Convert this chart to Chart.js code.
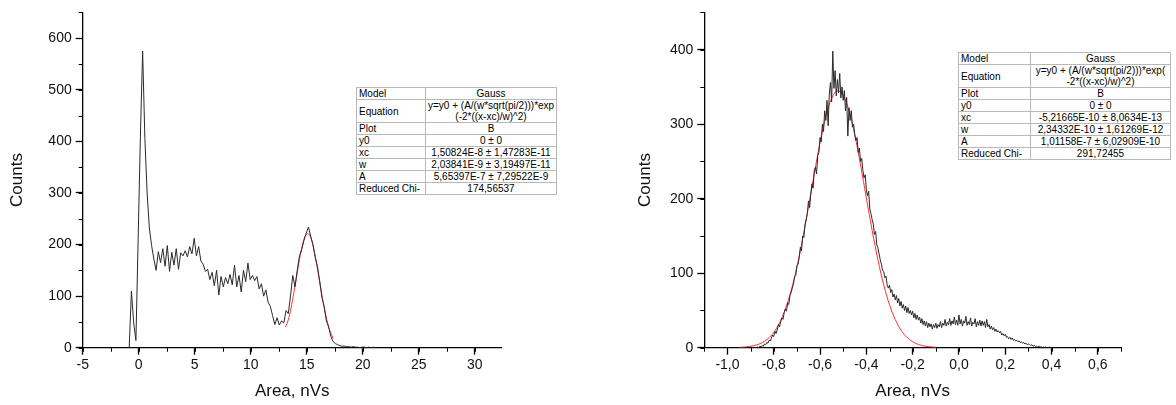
<!DOCTYPE html>
<html>
<head>
<meta charset="utf-8">
<script src="https://cdn.jsdelivr.net/npm/chart.js@4/dist/chart.umd.min.js"></script>
<style>
body { margin: 0; background: #fff; }
#wrap { position: relative; width: 1176px; height: 405px; }
canvas { position: absolute; top: 0; }
table.fit { position: absolute; border-collapse: collapse; font: 10px 'Liberation Sans', Arial, sans-serif; color: #000; background: #fff; table-layout: fixed; }
table.fit td { border: 1px solid #b8b8b8; padding: 0 2px; height: 11px; line-height: 11px; white-space: nowrap; overflow: hidden; }
table.fit td.v { text-align: center; }
</style>
</head>
<body>
<div id="wrap">
  <canvas id="leftChart" width="588" height="405" style="left:0"></canvas>
  <canvas id="rightChart" width="588" height="405" style="left:588px"></canvas>

  <table class="fit" style="left:356px; top:87px; width:201px">
    <colgroup><col style="width:69px"><col></colgroup>
    <tr><td>Model</td><td class="v">Gauss</td></tr>
    <tr><td>Equation</td><td class="v">y=y0 + (A/(w*sqrt(pi/2)))*exp<br>(-2*((x-xc)/w)^2)</td></tr>
    <tr><td>Plot</td><td class="v">B</td></tr>
    <tr><td>y0</td><td class="v">0 ± 0</td></tr>
    <tr><td>xc</td><td class="v">1,50824E-8 ± 1,47283E-11</td></tr>
    <tr><td>w</td><td class="v">2,03841E-9 ± 3,19497E-11</td></tr>
    <tr><td>A</td><td class="v">5,65397E-7 ± 7,29522E-9</td></tr>
    <tr><td>Reduced Chi-</td><td class="v">174,56537</td></tr>
  </table>

  <table class="fit" style="left:958px; top:52px; width:213px">
    <colgroup><col style="width:72px"><col></colgroup>
    <tr><td>Model</td><td class="v">Gauss</td></tr>
    <tr><td>Equation</td><td class="v">y=y0 + (A/(w*sqrt(pi/2)))*exp(<br>-2*((x-xc)/w)^2)</td></tr>
    <tr><td>Plot</td><td class="v">B</td></tr>
    <tr><td>y0</td><td class="v">0 ± 0</td></tr>
    <tr><td>xc</td><td class="v">-5,21665E-10 ± 8,0634E-13</td></tr>
    <tr><td>w</td><td class="v">2,34332E-10 ± 1,61269E-12</td></tr>
    <tr><td>A</td><td class="v">1,01158E-7 ± 6,02909E-10</td></tr>
    <tr><td>Reduced Chi-</td><td class="v">291,72455</td></tr>
  </table>
</div>

<script>
// left spectrum: histogram bins (nVs) and counts
var leftBinStart = -0.85;
var leftBinWidth = 0.2;
var leftCounts = [0, 110, 48, 14, 210, 410, 575, 405, 300, 232,
    198, 172, 150, 186, 165, 192, 158, 198, 148, 185,
    160, 192, 152, 184, 178, 188, 176, 196, 182, 212,
    178, 196, 168, 162, 148, 152, 132, 146, 120, 150,
    102, 138, 118, 136, 124, 142, 122, 160, 118, 140,
    108, 150, 128, 164, 132, 140, 130, 138, 114, 124,
    100, 112, 88, 80, 62, 45, 58, 44, 52, 48,
    72, 66, 100, 140, 118, 150, 178, 190, 208, 222,
    234, 216, 200, 176, 158, 130, 98, 80, 52, 40,
    22, 12, 8, 6, 4, 3, 3, 2, 2, 1,
    2, 1, 1, 0, 1, 1, 0, 1, 0, 1, 0];
// left gauss fit (red)
var leftFitX = [13.1, 13.35, 13.6, 13.85, 14.1, 14.35, 14.6, 14.85, 15.1, 15.35, 15.6, 15.85, 16.1, 16.35, 16.6, 16.85, 17.1, 17.35];
var leftFitY = [40, 54, 77, 107, 139, 171, 198, 216, 221, 214, 194, 166, 134, 102, 73, 49, 31, 18];
var leftXTicks = [-5, 0, 5, 10, 15, 20, 25, 30];
var leftYTicks = [0, 100, 200, 300, 400, 500, 600];

// right spectrum
var rightBinStart = -0.95;
var rightBinWidth = 0.005;
var rightCounts = [0, 0, 0, 0, 0, 0, 0, 0, 0, 0, 0, 0, 0, 0, 0, 0,
    1, 0, 2, 1, 3, 2, 5, 4, 7, 6,
    10, 9, 13, 17, 15, 22, 19, 24, 31, 28,
    35, 40, 38, 47, 52, 49, 60, 58, 70, 74,
    80, 85, 95, 97, 110, 112, 121, 135, 130, 150,
    148, 165, 172, 180, 197, 188, 206, 220, 214, 238,
    242, 233, 258, 262, 282, 276, 300, 290, 318, 305,
    332, 298, 340, 356, 330, 398, 348, 372, 338, 360,
    342, 368, 335, 350, 332, 345, 318, 336, 284, 322,
    305, 318, 296, 300, 286, 278, 282, 262, 268, 250,
    254, 238, 228, 232, 212, 204, 210, 186, 180, 172,
    166, 152, 156, 138, 134, 126, 118, 112, 104, 102,
    94, 96, 84, 80, 84, 74, 78, 68, 72, 64,
    70, 60, 66, 56, 62, 53, 58, 50, 56, 47,
    54, 46, 50, 44, 49, 40, 46, 38, 44, 37,
    41, 33, 39, 31, 36, 29, 35, 27, 33, 28,
    32, 25, 31, 27, 33, 26, 31, 28, 35, 27,
    33, 30, 38, 29, 34, 31, 39, 30, 36, 32,
    41, 31, 37, 30, 44, 32, 38, 29, 36, 33,
    42, 30, 35, 31, 40, 29, 34, 32, 39, 28,
    35, 30, 37, 29, 36, 30, 35, 27, 38, 28,
    31, 25, 29, 24, 27, 22, 25, 21, 23, 20,
    22, 17, 19, 16, 18, 14, 15, 12, 14, 11,
    13, 10, 11, 9, 10, 8, 9, 7, 8, 6,
    7, 5, 6, 4, 5, 4, 3, 4, 2, 3,
    2, 2, 1, 2, 1, 1, 0, 1, 0, 1,
    0, 0, 1, 0, 0, 0, 0];
var rightFitX = [-0.95, -0.925, -0.9, -0.875, -0.85, -0.825, -0.8, -0.775, -0.75, -0.725, -0.7, -0.675,
    -0.65, -0.625, -0.6, -0.575, -0.55, -0.525, -0.5, -0.475, -0.45, -0.425, -0.4, -0.375,
    -0.35, -0.325, -0.3, -0.275, -0.25, -0.225, -0.2, -0.175, -0.15, -0.125, -0.1];
var rightFitY = [0.4, 0.9, 1.9, 3.7, 6.8, 12.1, 20.5, 33.4, 51.7, 76.5, 108.3, 146.4,
    189.2, 233.6, 275.6, 310.7, 334.6, 344.5, 338.7, 318.2, 285.7, 245.1, 200.9, 157.4,
    117.8, 84.3, 57.6, 37.6, 23.5, 14.0, 8.0, 4.3, 2.3, 1.1, 0.5];
var rightXTicks = [-1.0, -0.8, -0.6, -0.4, -0.2, 0.0, 0.2, 0.4, 0.6];
var rightYTicks = [0, 100, 200, 300, 400];

var FONT = "'Liberation Sans', Arial, sans-serif";

function histPoints(start, width, counts) {
    var pts = [];
    for (var i = 0; i < counts.length; i++) {
        pts.push({x: +(start + i * width).toFixed(4), y: counts[i]});
    }
    return pts;
}

function zipPoints(xs, ys) {
    var pts = [];
    for (var i = 0; i < xs.length; i++) pts.push({x: xs[i], y: ys[i]});
    return pts;
}

function fixedTicks(list) {
    return function(scale) {
        scale.ticks = list.map(function(v) { return {value: v}; });
    };
}

// small outward minor ticks on both axes
var minorTicks = {
    id: 'minorTicks',
    afterDraw: function(chart, args, opts) {
        var ctx = chart.ctx;
        var xs = chart.scales.x, ys = chart.scales.y;
        ctx.save();
        ctx.strokeStyle = '#000';
        ctx.lineWidth = 1;
        ctx.beginPath();
        for (var v = xs.min; v <= xs.max + 1e-9; v += opts.xStep) {
            var px = Math.round(xs.getPixelForValue(v)) + 0.5;
            ctx.moveTo(px, ys.bottom);
            ctx.lineTo(px, ys.bottom + 4);
        }
        for (var w = ys.min; w <= ys.max + 1e-9; w += opts.yStep) {
            var py = Math.round(ys.getPixelForValue(w)) + 0.5;
            ctx.moveTo(xs.left, py);
            ctx.lineTo(xs.left - 4, py);
        }
        ctx.stroke();
        ctx.restore();
    }
};

function makeChart(id, cfg) {
    return new Chart(document.getElementById(id), {
        type: 'line',
        data: {
            datasets: [{
                data: cfg.hist,
                borderColor: '#2a2a2a',
                borderWidth: 1,
                pointRadius: 0,
                tension: 0
            }, {
                data: cfg.fit,
                borderColor: '#ff3030',
                borderWidth: 1,
                pointRadius: 0,
                cubicInterpolationMode: 'monotone'
            }]
        },
        plugins: [minorTicks],
        options: {
            responsive: false,
            animation: false,
            devicePixelRatio: 1,
            layout: {
                padding: {left: cfg.padLeft, right: cfg.padRight, top: 11.7, bottom: 0}
            },
            scales: {
                x: {
                    type: 'linear',
                    min: cfg.xMin,
                    max: cfg.xMax,
                    afterBuildTicks: fixedTicks(cfg.xTicks),
                    afterFit: function(s) { s.height = 57.3; },
                    border: {color: '#000', width: 1.3},
                    grid: {drawOnChartArea: false, tickLength: 7, color: '#000', tickWidth: 1.3},
                    ticks: {
                        color: '#111',
                        padding: 2,
                        maxRotation: 0,
                        autoSkip: false,
                        font: {family: FONT, size: 14},
                        callback: cfg.xFormat
                    },
                    title: {
                        display: true,
                        text: 'Area, nVs',
                        color: '#111',
                        padding: {top: 0, bottom: 3},
                        font: {family: FONT, size: 17}
                    }
                },
                y: {
                    type: 'linear',
                    min: 0,
                    max: cfg.yMax,
                    afterBuildTicks: fixedTicks(cfg.yTicks),
                    afterFit: function(s) { s.width = cfg.yWidth; },
                    border: {color: '#000', width: 1.3},
                    grid: {drawOnChartArea: false, tickLength: 7, color: '#000', tickWidth: 1.3},
                    ticks: {
                        color: '#111',
                        padding: 4,
                        autoSkip: false,
                        font: {family: FONT, size: 14}
                    },
                    title: {
                        display: true,
                        text: 'Counts',
                        color: '#111',
                        padding: {top: 7, bottom: 0},
                        font: {family: FONT, size: 17}
                    }
                }
            },
            plugins: {
                legend: {display: false},
                tooltip: {enabled: false},
                minorTicks: {xStep: cfg.xMinor, yStep: 50}
            }
        }
    });
}

makeChart('leftChart', {
    hist: histPoints(leftBinStart, leftBinWidth, leftCounts),
    fit: zipPoints(leftFitX, leftFitY),
    xMin: -5, xMax: 32.4, xTicks: leftXTicks, yTicks: leftYTicks, xMinor: 2.5, yMax: 650,
    padLeft: 0, padRight: 86.3, yWidth: 82.7,
    xFormat: function(v) { return String(v); }
});

makeChart('rightChart', {
    hist: histPoints(rightBinStart, rightBinWidth, rightCounts),
    fit: zipPoints(rightFitX, rightFitY),
    xMin: -1.1, xMax: 0.7, xTicks: rightXTicks, yTicks: rightYTicks, xMinor: 0.1, yMax: 450,
    padLeft: 40, padRight: 55, yWidth: 76.3,
    xFormat: function(v) { return (Math.abs(v) < 1e-9 ? 0 : v).toFixed(1).replace('.', ','); }
});
</script>
</body>
</html>
